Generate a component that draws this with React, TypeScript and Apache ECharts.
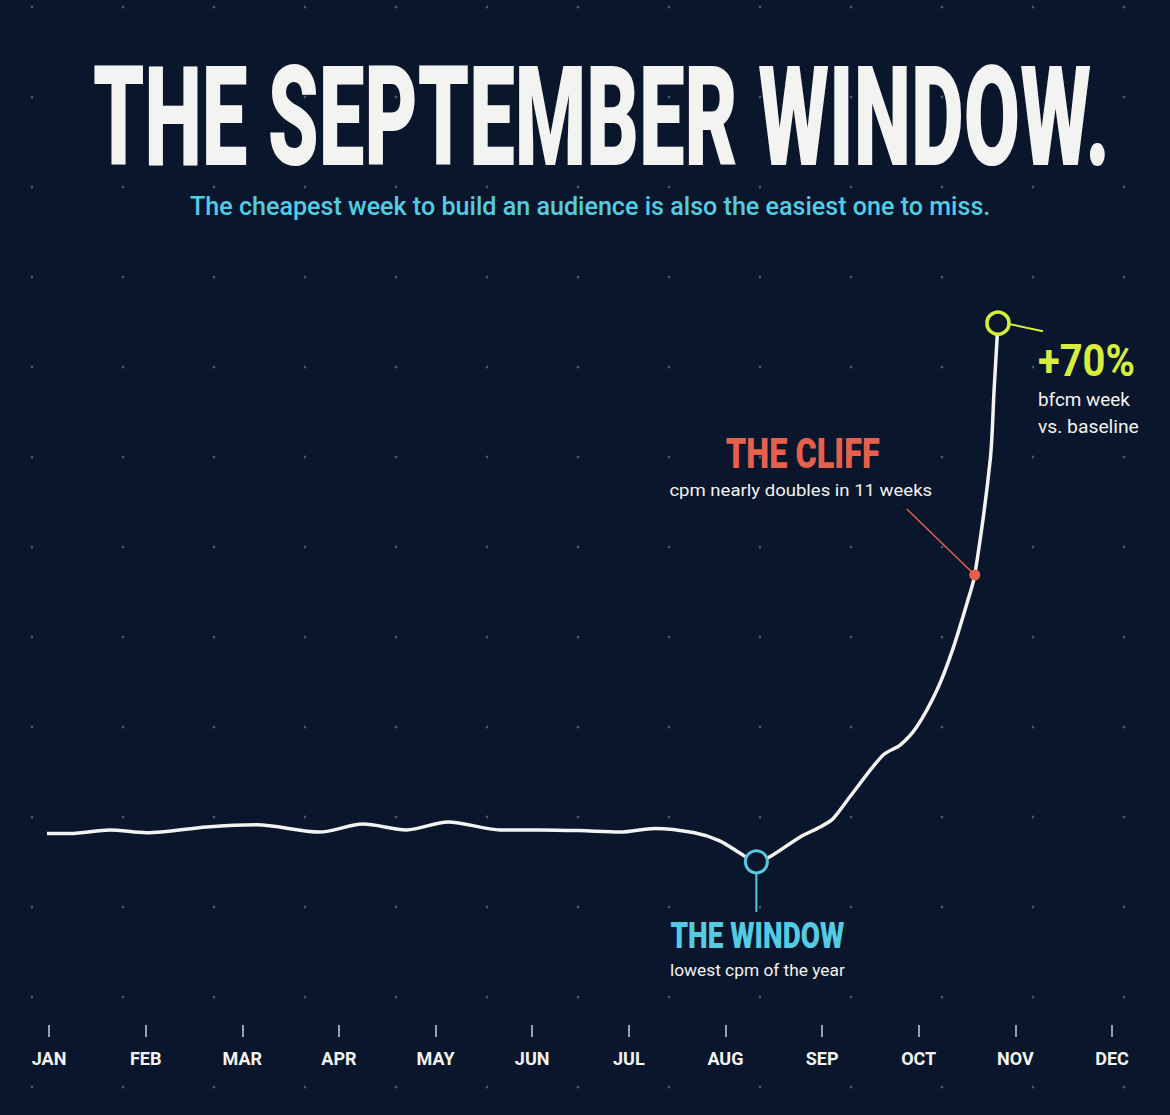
import React, { useEffect, useRef } from "react";
import * as echarts from "echarts";

// ---------- data ----------
const monthLabels = ["JAN", "FEB", "MAR", "APR", "MAY", "JUN", "JUL", "AUG", "SEP", "OCT", "NOV", "DEC"];
// month position (0 = JAN) and cpm index (100 = baseline)
const curveX = [-0.06, 0.22, 0.63, 1.01, 1.63, 2.15, 2.8, 3.25, 3.7, 4.13, 4.67, 5.08, 5.49, 5.91, 6.27, 6.68, 6.94, 7.15, 7.32, 7.46, 7.77, 7.98, 8.11, 8.29, 8.63, 8.81, 8.98, 9.19, 9.35, 9.51, 9.58, 9.74, 9.78, 9.82];
const curveY = [99.9, 99.9, 100.4, 100.0, 100.8, 101.1, 100.1, 101.2, 100.4, 101.5, 100.4, 100.4, 100.3, 100.1, 100.6, 100.0, 98.9, 97.2, 96.0, 96.7, 99.4, 100.8, 101.9, 105.0, 110.7, 112.1, 114.6, 119.7, 125.2, 132.1, 135.5, 151.4, 161.0, 170.2];
const windowPoint = [7.32, 96.0];
const cliffPoint = [9.58, 135.5];
const peakPoint = [9.82, 170.2];

const titleText = "THE SEPTEMBER WINDOW.";
const subtitleText = "The cheapest week to build an audience is also the easiest one to miss.";
const windowTitle = "THE WINDOW";
const windowNote = "lowest cpm of the year";
const cliffTitle = "THE CLIFF";
const cliffNote = "cpm nearly doubles in 11 weeks";
const peakTitle = "+70%";
const peakNote1 = "bfcm week";
const peakNote2 = "vs. baseline";

// ---------- styles ----------
const BG = "#0a162b";
const WHITE = "#f3f3f1";
const CYAN = "#55cbe3";
const RED = "#e7604d";
const LIME = "#d6ee3e";
const DOT = "#46556f";
const HEAVY = "Roboto";

const canvas = document.createElement("canvas");
const ctx = canvas.getContext("2d")!;

function fitText(
  text: string,
  x: number,
  y: number,
  o: { size: number; weight: number | string; family: string; color: string; width: number; align: "left" | "center" }
) {
  ctx.font = `${o.weight} ${o.size}px ${o.family}`;
  const w = ctx.measureText(text).width || 1;
  return {
    type: "text",
    x,
    y,
    scaleX: o.width / w,
    z: 30,
    silent: true,
    style: {
      text,
      fill: o.color,
      fontSize: o.size,
      fontWeight: o.weight,
      fontFamily: o.family,
      align: o.align,
      verticalAlign: "middle",
      textAlign: o.align,
      textVerticalAlign: "middle",
    },
  };
}

export default function App() {
  const ref = useRef<HTMLDivElement>(null);

  useEffect(() => {
    const chart = echarts.init(ref.current!, null, { renderer: "svg" });

    const dots: any[] = [];
    for (let i = 0; i < 13; i++) {
      for (let j = 0; j < 13; j++) {
        dots.push({
          type: "circle",
          z: 0,
          silent: true,
          shape: { cx: 32 + 91 * i, cy: 7 + 90 * j, r: 1.4 },
          style: { fill: DOT },
        });
      }
    }

    const ringStyle = (color: string, w: number) => ({ color: BG, borderColor: color, borderWidth: w, opacity: 1 });

    chart.setOption({
      animation: false,
      backgroundColor: BG,
      grid: { left: 49, right: 58, top: 252, bottom: 137, containLabel: false },
      xAxis: {
        type: "value",
        min: 0,
        max: 11,
        interval: 1,
        offset: 47,
        axisLine: { show: false },
        axisTick: { show: true, length: 12, lineStyle: { color: "#c9d0da", width: 1.5 } },
        splitLine: { show: false },
        axisLabel: {
          margin: 24,
          color: WHITE,
          fontSize: 18,
          fontWeight: "bold",
          fontFamily: "Roboto, sans-serif",
          verticalAlign: "top",
          formatter: (v: number) => monthLabels[Math.round(v)] ?? "",
        },
      },
      yAxis: { type: "value", min: 80, max: 180, show: false, splitLine: { show: false } },
      graphic: dots,
      series: [
        {
          type: "line",
          data: curveX.map((x, i) => [x, curveY[i]]),
          smooth: 0.3,
          showSymbol: false,
          clip: false,
          z: 3,
          lineStyle: { color: WHITE, width: 3.5, cap: "round", join: "round" },
        },
        {
          type: "scatter",
          data: [windowPoint],
          symbol: "circle",
          symbolSize: 22,
          z: 6,
          itemStyle: ringStyle(CYAN, 3),
        },
        {
          type: "scatter",
          data: [cliffPoint],
          symbol: "circle",
          symbolSize: 11,
          z: 6,
          itemStyle: { color: RED, opacity: 1 },
        },
        {
          type: "scatter",
          data: [peakPoint],
          symbol: "circle",
          symbolSize: 22,
          z: 6,
          itemStyle: ringStyle(LIME, 3.5),
        },
      ],
    });

    const wp = chart.convertToPixel({ gridIndex: 0 }, windowPoint) as number[];
    const cp = chart.convertToPixel({ gridIndex: 0 }, cliffPoint) as number[];
    const pp = chart.convertToPixel({ gridIndex: 0 }, peakPoint) as number[];

    const lineEl = (x1: number, y1: number, x2: number, y2: number, color: string, w: number) => ({
      type: "line",
      z: 5,
      silent: true,
      shape: { x1, y1, x2, y2 },
      style: { stroke: color, lineWidth: w },
    });

    const annotations = [
      fitText(titleText, 93, 117.5, { size: 139, weight: 900, family: HEAVY, color: WHITE, width: 1017, align: "left" }),
      fitText(subtitleText, 190, 206, { size: 26, weight: 500, family: "Roboto", color: CYAN, width: 801, align: "left" }),
      // window
      lineEl(wp[0], wp[1] + 12, wp[0], wp[1] + 50, CYAN, 2),
      fitText(windowTitle, wp[0] + 1, wp[1] + 74, { size: 37, weight: 900, family: HEAVY, color: CYAN, width: 174, align: "center" }),
      fitText(windowNote, wp[0] + 1, wp[1] + 108, { size: 17, weight: 400, family: "Roboto", color: WHITE, width: 175, align: "center" }),
      // cliff
      lineEl(cp[0] - 68, cp[1] - 66, cp[0], cp[1], RED, 1.5),
      fitText(cliffTitle, cp[0] - 172, cp[1] - 122, { size: 42, weight: 900, family: HEAVY, color: RED, width: 154, align: "center" }),
      fitText(cliffNote, cp[0] - 174, cp[1] - 85, { size: 17, weight: 400, family: "Roboto", color: WHITE, width: 263, align: "center" }),
      // peak
      lineEl(pp[0] + 12, pp[1] + 1, pp[0] + 45, pp[1] + 8, LIME, 2),
      fitText(peakTitle, pp[0] + 40, pp[1] + 38, { size: 44, weight: 700, family: "Roboto", color: LIME, width: 97, align: "left" }),
      fitText(peakNote1, pp[0] + 40, pp[1] + 77, { size: 18, weight: 400, family: "Roboto", color: WHITE, width: 92, align: "left" }),
      fitText(peakNote2, pp[0] + 40, pp[1] + 104, { size: 18, weight: 400, family: "Roboto", color: WHITE, width: 101, align: "left" }),
    ];

    chart.setOption({ graphic: [...dots, ...annotations] });

    return () => chart.dispose();
  }, []);

  return (
    <div
      ref={ref}
      style={{ position: "fixed", left: 0, top: 0, width: 1170, height: 1115, background: BG }}
    />
  );
}
